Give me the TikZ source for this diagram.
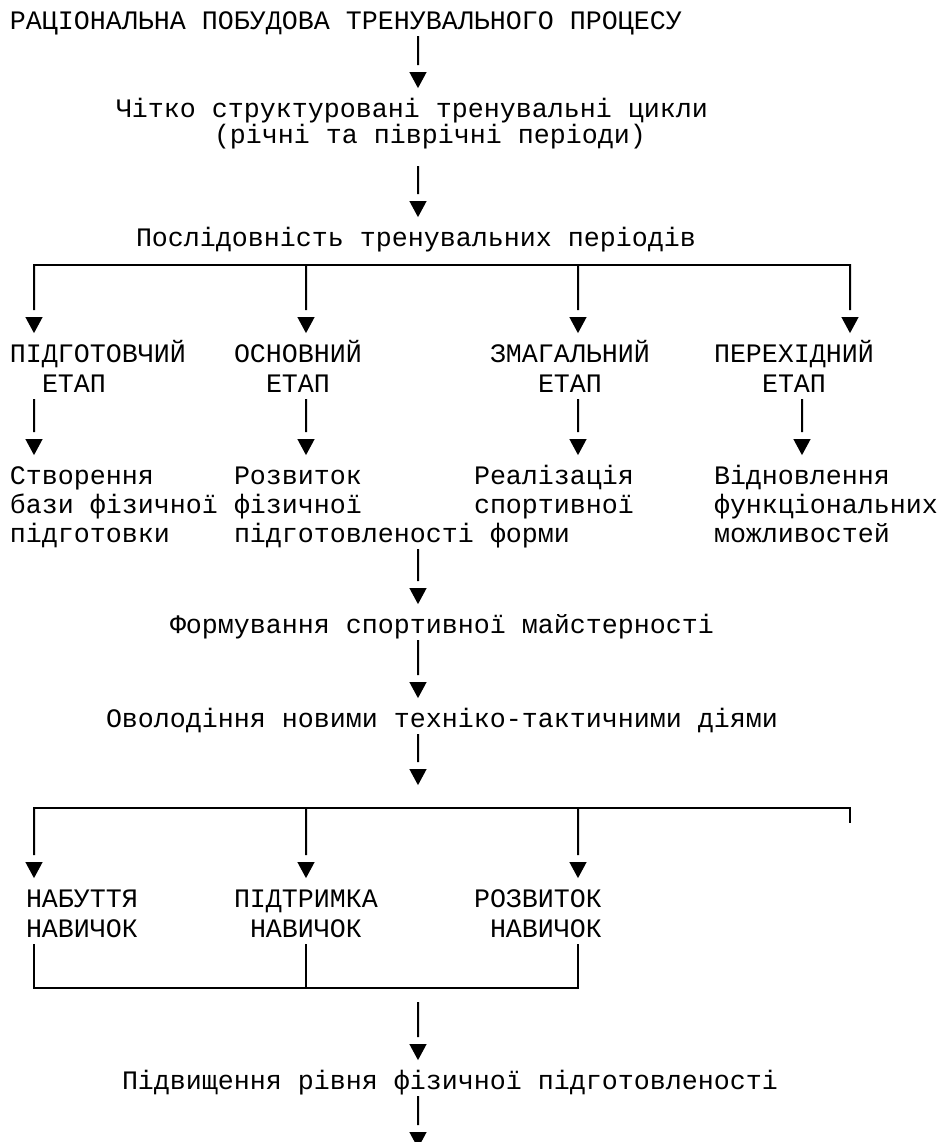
\documentclass[tikz,border=0pt]{standalone}
\usepackage{fontspec}
\setmonofont{Liberation Mono}
\usetikzlibrary{calc}

\tikzset{
  txt/.style={anchor=base west, inner sep=0pt, outer sep=0pt,
    text height=15.5pt, text depth=4pt,
    font=\ttfamily\fontsize{13.33}{15}\selectfont},
  flow/.style={fill=black, line join=miter,
    to path={-- ($(\tikztotarget)+(0,22)$)
      ($(\tikztotarget)+(-7,13)$) -- ($(\tikztotarget)+(7,13)$)
      -- (\tikztotarget) -- cycle}},
}

\begin{document}
\begin{tikzpicture}[x=0.5pt, y=0.5pt, line width=1pt, line cap=rect]%[scale=1.0,transform shape]
  \useasboundingbox (0,0) rectangle (940,-1142);
  % columns of the arrows
  \coordinate (c1)  at (34,0);
  \coordinate (c18) at (306,0);
  \coordinate (c25) at (418,0);
  \coordinate (c35) at (578,0);
  \coordinate (c49) at (802,0);
  \coordinate (c52) at (850,0);

  \node (title)   [txt] at (10,-29)   {РАЦІОНАЛЬНА ПОБУДОВА ТРЕНУВАЛЬНОГО ПРОЦЕСУ};
  \node (cycles)  [txt] at (116,-117) {Чітко структуровані тренувальні цикли};
  \node (periods) [txt] at (214,-143) {(річні та піврічні періоди)};
  \node (seq)     [txt] at (136,-246) {Послідовність тренувальних періодів};

  \node (prep)  [txt] at (10,-362)  {ПІДГОТОВЧИЙ};
  \node (prepB) [txt] at (42,-392)  {ЕТАП};
  \node (main)  [txt] at (234,-362) {ОСНОВНИЙ};
  \node (mainB) [txt] at (266,-392) {ЕТАП};
  \node (comp)  [txt] at (490,-362) {ЗМАГАЛЬНИЙ};
  \node (compB) [txt] at (538,-392) {ЕТАП};
  \node (tran)  [txt] at (714,-362) {ПЕРЕХІДНИЙ};
  \node (tranB) [txt] at (762,-392) {ЕТАП};

  \node (create1)  [txt] at (10,-484)  {Створення};
  \node (create2)  [txt] at (10,-513)  {бази фізичної};
  \node (create3)  [txt] at (10,-542)  {підготовки};
  \node (develop1) [txt] at (234,-484) {Розвиток};
  \node (develop2) [txt] at (234,-513) {фізичної};
  \node (develop3) [txt] at (234,-542) {підготовленості};
  \node (realise1) [txt] at (474,-484) {Реалізація};
  \node (realise2) [txt] at (474,-513) {спортивної};
  \node (realise3) [txt] at (490,-542) {форми};
  \node (recover1) [txt] at (714,-484) {Відновлення};
  \node (recover2) [txt] at (714,-513) {функціональних};
  \node (recover3) [txt] at (714,-542) {можливостей};

  \node (mastery) [txt] at (170,-633) {Формування спортивної майстерності};
  \node (tactics) [txt] at (106,-727) {Оволодіння новими техніко-тактичними діями};

  \node (acq)   [txt] at (26,-907)  {НАБУТТЯ};
  \node (acqB)  [txt] at (26,-937)  {НАВИЧОК};
  \node (keep)  [txt] at (234,-907) {ПІДТРИМКА};
  \node (keepB) [txt] at (250,-937) {НАВИЧОК};
  \node (grow)  [txt] at (474,-907) {РОЗВИТОК};
  \node (growB) [txt] at (490,-937) {НАВИЧОК};

  \node (level) [txt] at (122,-1089) {Підвищення рівня фізичної підготовленості};

  \coordinate (bar1w)   at (34,-265);
  \coordinate (bar1e)   at (850,-265);
  \coordinate (bar2top) at (418,-783);
  \coordinate (bar2w)   at (34,-808);
  \coordinate (bar2e)   at (850,-808);
  \coordinate (bar3w)   at (34,-988);
  \coordinate (gain)    at (418,-1003);
  \coordinate (tail)    at (418,-1146);

  \draw[flow] (title.south -| c25) to (cycles.north -| c25);
  \draw[flow] ($(periods.south -| c25)+(0,-16)$) to (seq.north -| c25);

  \draw (bar1w) -- (bar1e);
  \foreach \col/\stage in {c1/prep, c18/main, c35/comp, c52/tran}
    \draw[flow] (bar1w -| \col) to (\stage.north -| \col);

  \draw[flow] (prepB.south -| c1)  to (create1.north -| c1);
  \draw[flow] (mainB.south -| c18) to (develop1.north -| c18);
  \draw[flow] (compB.south -| c35) to (realise1.north -| c35);
  \draw[flow] (tranB.south -| c49) to (recover1.north -| c49);

  \draw[flow] (develop3.south -| c25) to (mastery.north -| c25);
  \draw[flow] (mastery.south -| c25)  to (tactics.north -| c25);
  \draw[flow] (tactics.south -| c25)  to (bar2top);

  \draw (bar2w) -- (bar2e) -- ++(0,-14);
  \foreach \col/\skill in {c1/acq, c18/keep, c35/grow}
    \draw[flow] (bar2w -| \col) to (\skill.north -| \col);

  \draw (acqB.south -| c1) -- (bar3w) -- (bar3w -| c35) -- (growB.south -| c35);
  \draw (keepB.south -| c18) -- (bar3w -| c18);

  \draw[flow] (gain) to (level.north -| c25);
  \draw[flow] (level.south -| c25) to (tail);
\end{tikzpicture}
\end{document}
